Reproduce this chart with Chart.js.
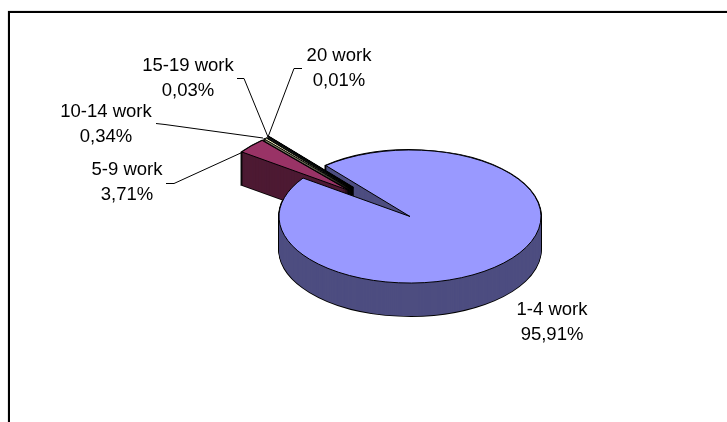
<!DOCTYPE html>
<html>
<head>
<meta charset="utf-8">
<style>
html, body { margin: 0; padding: 0; background: #ffffff; overflow: hidden; }
#box { position: absolute; left: 8px; top: 11px; width: 730px; height: 430px; border: 2px solid #000; box-sizing: border-box; box-shadow: 0 0 1px #777; }
canvas { position: absolute; left: 0; top: 0; }
</style>
<script src="https://cdn.jsdelivr.net/npm/chart.js@4"></script>
</head>
<body>
<div id="box"></div>
<canvas id="torta" width="727" height="422"></canvas>
<script>
var categories = ["1-4 work", "5-9 work", "10-14 work", "15-19 work", "20 work"];
var percent = [95.91, 3.71, 0.34, 0.03, 0.01];
var topColors = ["#9999FF", "#993366", "#FFFFCC", "#CCFFFF", "#660066"];
var sideColors = ["#4D4D80", "#4D1A33", "#808066", "#668080", "#330033"];

// look of the 3d pie
var centerX = 410, centerY = 216.5, radius = 131, squash = 0.508, depth = 33;
var explode = [0, 80, 80, 80, 80];
var explodeAngle = [0, -140, -137.5, -135.5, -135];
var labelFont = "18.5px 'Liberation Sans', Arial, sans-serif";
var labelX = [552, 127, 106, 188, 339];
var labelY = [315, 175, 117, 71, 61];
var lineGap = 24.5;
var leaders = [
    null,
    [[166, 183.5], [174, 183.5], [243, 152]],
    [[156, 123.5], [165, 124.5], [263, 138]],
    [[237, 78.5], [244, 78.5], [268, 137]],
    [[302, 68.5], [294, 68.5], [268, 137]]
];

function setTransform(ctx, arc, i, dy) {
    var a = explodeAngle[i] * Math.PI / 180;
    ctx.translate(centerX + Math.cos(a) * explode[i], centerY + dy + Math.sin(a) * explode[i] * squash);
    ctx.scale(1, squash);
    ctx.translate(-arc.x, -arc.y);
}

function slicePath(ctx, arc, i, dy) {
    ctx.save();
    setTransform(ctx, arc, i, dy);
    ctx.beginPath();
    ctx.moveTo(arc.x, arc.y);
    ctx.arc(arc.x, arc.y, arc.outerRadius, arc.startAngle, arc.endAngle);
    ctx.closePath();
    ctx.restore();
}

function drawWall(ctx, arc, i) {
    var d;
    // silhouette first, the fills then eat the inner half of it
    ctx.strokeStyle = "#000";
    ctx.lineWidth = 1.6;
    for (d = depth; d >= 0; d--) {
        slicePath(ctx, arc, i, d);
        ctx.stroke();
    }
    ctx.fillStyle = sideColors[i];
    for (d = depth; d >= 0; d--) {
        slicePath(ctx, arc, i, d);
        ctx.fill();
    }
}

function drawTop(ctx, arc, i) {
    ctx.save();
    setTransform(ctx, arc, i, 0);
    arc.draw(ctx);
    ctx.restore();
    slicePath(ctx, arc, i, 0);
    ctx.strokeStyle = "#000";
    ctx.lineWidth = 1;
    ctx.stroke();
}

var pie3d = {
    id: "pie3d",
    beforeDatasetsDraw: function (chart) {
        var ctx = chart.ctx;
        var arcs = chart.getDatasetMeta(0).data;
        var i;
        // blue walls, then the pulled out slices, the blue top comes last and hides their foot
        drawWall(ctx, arcs[0], 0);
        for (i = arcs.length - 1; i >= 1; i--) {
            drawWall(ctx, arcs[i], i);
            drawTop(ctx, arcs[i], i);
        }
        drawTop(ctx, arcs[0], 0);
        return false;
    },
    afterDraw: function (chart) {
        var ctx = chart.ctx;
        ctx.save();
        ctx.strokeStyle = "#000";
        ctx.lineWidth = 1;
        leaders.forEach(function (p) {
            if (p == null) return;
            ctx.beginPath();
            ctx.moveTo(p[0][0], p[0][1]);
            ctx.lineTo(p[1][0], p[1][1]);
            ctx.lineTo(p[2][0], p[2][1]);
            ctx.stroke();
        });
        ctx.fillStyle = "#000";
        ctx.font = labelFont;
        ctx.textAlign = "center";
        categories.forEach(function (c, i) {
            ctx.fillText(c, labelX[i], labelY[i]);
            ctx.fillText(percent[i].toFixed(2).replace(".", ",") + "%", labelX[i], labelY[i] + lineGap);
        });
        ctx.restore();
    }
};

var myChart = new Chart(document.getElementById("torta"), {
    type: "pie",
    data: {
        labels: categories,
        datasets: [{
            data: percent,
            backgroundColor: topColors,
            borderWidth: 0
        }]
    },
    options: {
        responsive: false,
        animation: false,
        rotation: -40,
        radius: radius,
        events: [],
        plugins: {
            legend: { display: false },
            tooltip: { enabled: false }
        }
    },
    plugins: [pie3d]
});
</script>
</body>
</html>
